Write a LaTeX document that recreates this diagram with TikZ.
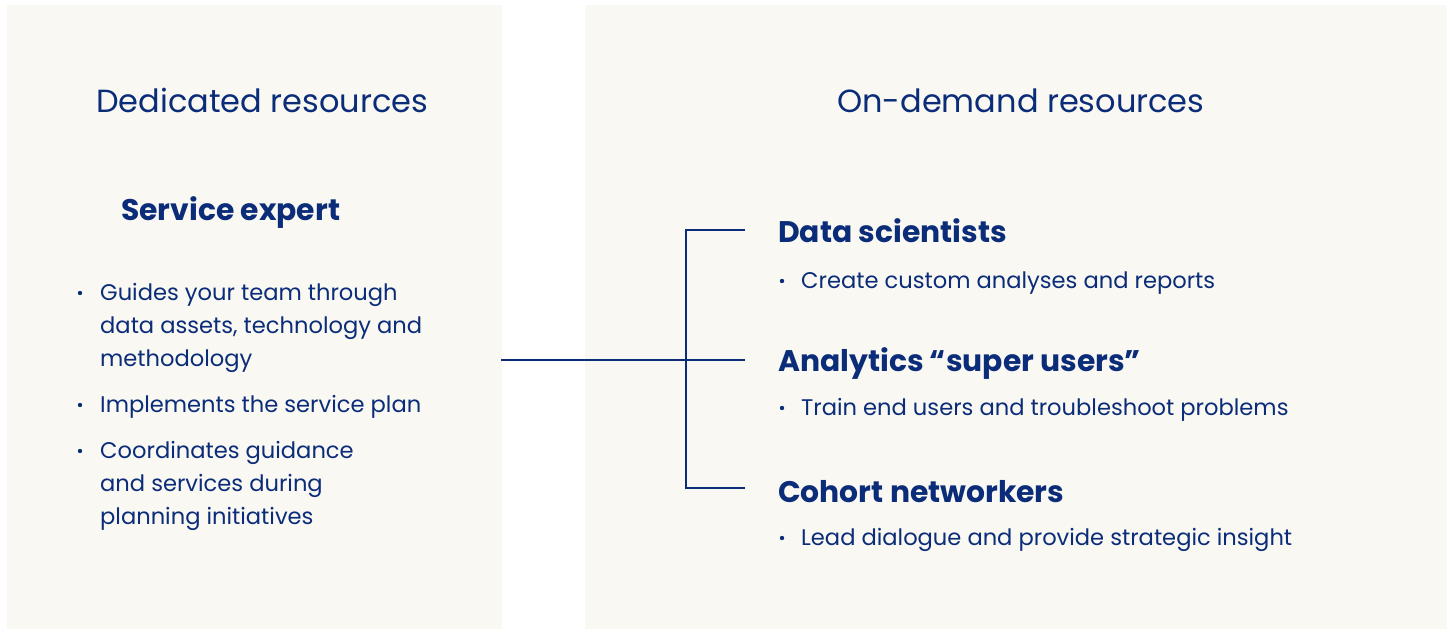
\documentclass[tikz,border=0pt]{standalone}
\usepackage{fontspec}
\setmainfont{Poppins}
\definecolor{navy}{HTML}{0B2C78}
\definecolor{panel}{HTML}{F9F8F3}
\tikzset{
  title/.style={anchor=base west, inner sep=0pt, text=navy, font=\fontsize{32}{40}\selectfont},
  head/.style={anchor=base west, inner sep=0pt, text=navy, font=\fontsize{29.8}{34}\selectfont\bfseries},
  body/.style={anchor=base west, inner sep=0pt, text=navy, font=\fontsize{22.6}{33}\selectfont},
  dot/.style={circle, fill=navy, inner sep=0pt, minimum size=4.4pt},
  link/.style={draw=navy, line width=2.6pt}
}
\begin{document}
\begin{tikzpicture}[x=1pt,y=-1pt]
\useasboundingbox (0,0) rectangle (1453,629);
\fill[white] (0,0) rectangle (1453,629);
\fill[panel] (7,5) rectangle (502,629);
\fill[panel] (585,5) rectangle (1447,629);

% titles
\node[title] (tded) at (96,112) {Dedicated resources};
\node[title] (tond) at (837,112) {On-demand resources};

% left panel
\node[head] (hse) at (121,220) {Service expert};
\node[dot] (b1) at (80,293) {};
\node[body] (l1a) at (100,300) {Guides your team through};
\node[body] (l1b) at (100,333) {data assets, technology and};
\node[body] (l1c) at (100,366) {methodology};
\node[dot] (b2) at (80,405) {};
\node[body] (l2a) at (100,412) {Implements the service plan};
\node[dot] (b3) at (80,451) {};
\node[body] (l3a) at (100,458) {Coordinates guidance};
\node[body] (l3b) at (100,491) {and services during};
\node[body] (l3c) at (100,524) {planning initiatives};

% right panel
\node[head] (hds) at (778,242) {Data scientists};
\node[dot] (r1) at (782,281) {};
\node[body] (r1t) at (801,288) {Create custom analyses and reports};
\node[head] (han) at (778,371) {Analytics “super users”};
\node[dot] (r2) at (782,408) {};
\node[body] (r2t) at (801,415) {Train end users and troubleshoot problems};
\node[head] (hco) at (778,502) {Cohort networkers};
\node[dot] (r3) at (782,538) {};
\node[body] (r3t) at (801,545) {Lead dialogue and provide strategic insight};

% connectors
\coordinate (src) at (501,360);
\coordinate (jt) at (686,230);
\coordinate (jm) at (686,360);
\coordinate (jb) at (686,488);
\coordinate (et) at (745,230);
\coordinate (em) at (745,360);
\coordinate (eb) at (745,488);
\draw[link] (src) -- (em);
\draw[link] (et) -- (jt) -- (jb) -- (eb);
\end{tikzpicture}
\end{document}
